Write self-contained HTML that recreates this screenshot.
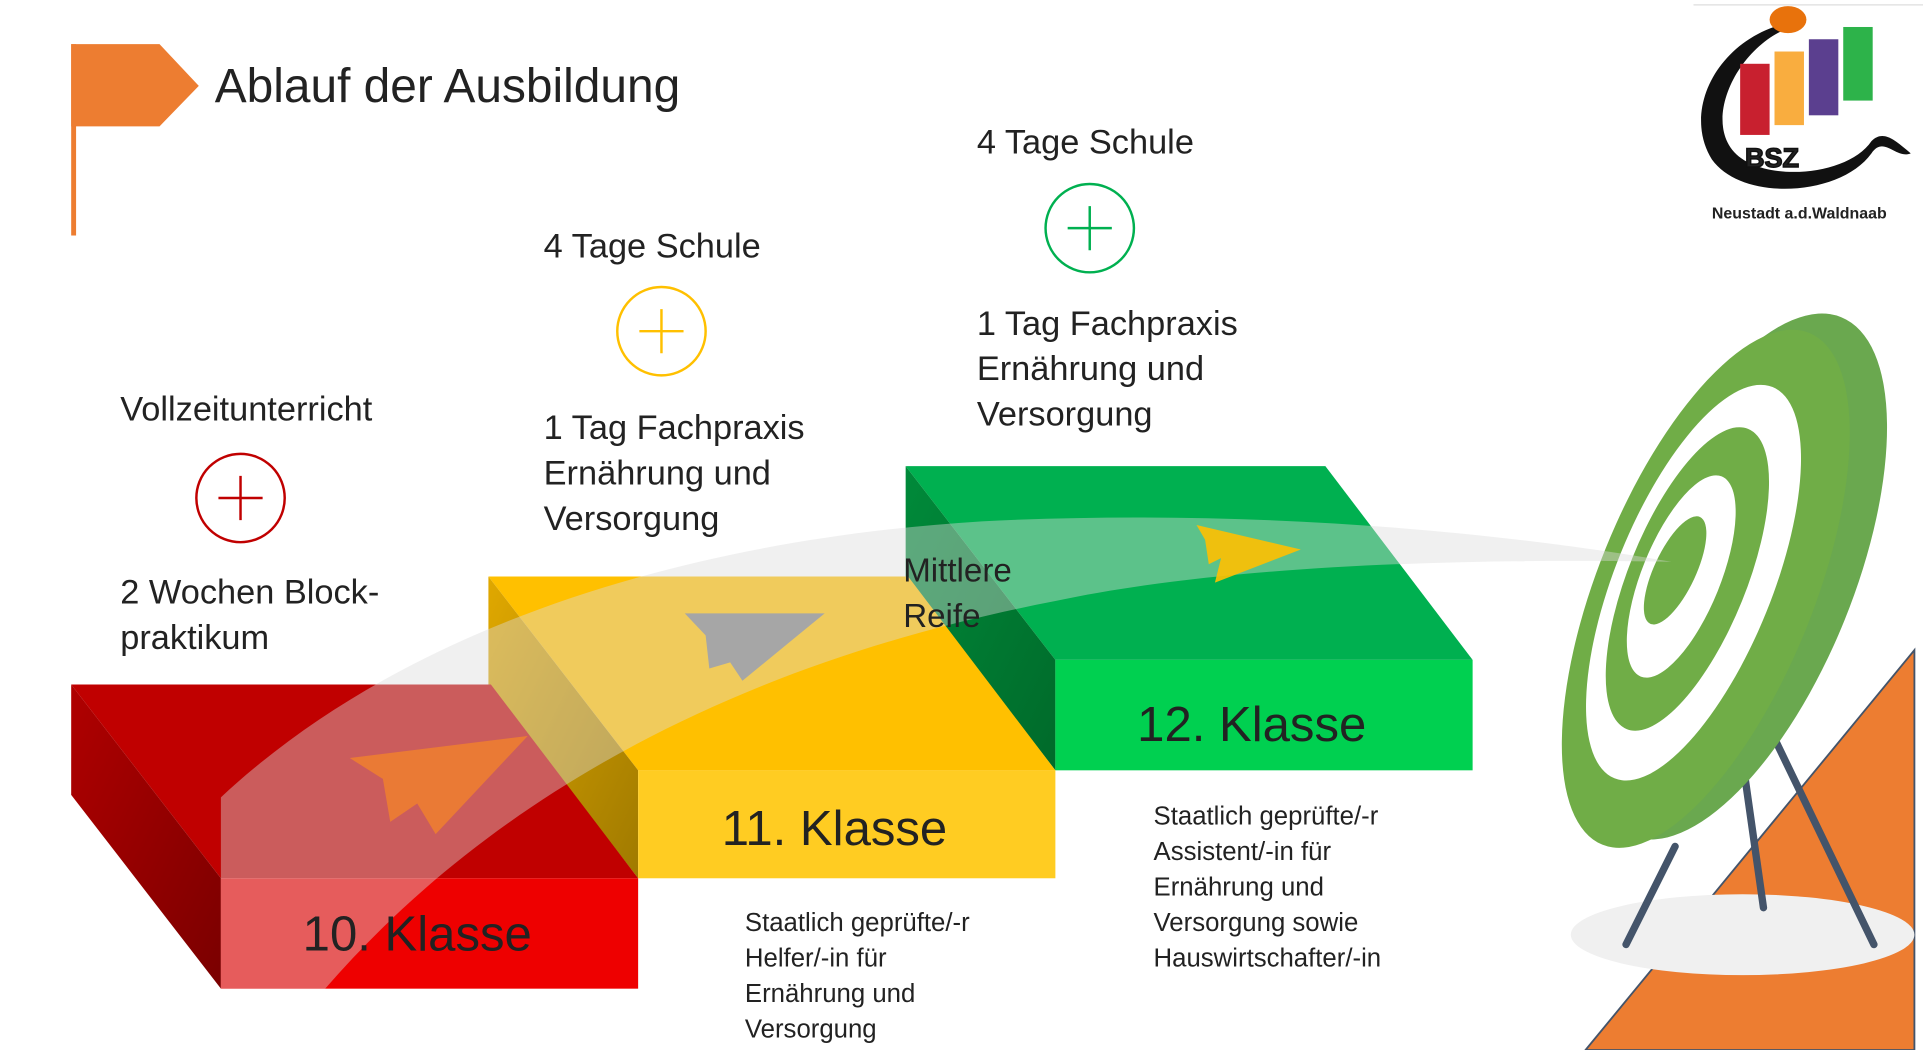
<!DOCTYPE html>
<html><head><meta charset="utf-8"><style>
html,body{margin:0;padding:0;background:#fff;width:1923px;height:1050px;overflow:hidden}
svg{display:block}
text{font-family:"Liberation Sans",sans-serif;fill:#222}
</style></head><body>
<svg width="1923" height="1050" viewBox="0 0 1567 856" preserveAspectRatio="none">
<defs>
<linearGradient id="rs" x1="0" y1="0" x2="1" y2="1"><stop offset="0" stop-color="#b00000"/><stop offset="1" stop-color="#7a0000"/></linearGradient>
<linearGradient id="ys" x1="0" y1="0" x2="1" y2="1"><stop offset="0" stop-color="#e0a800"/><stop offset="1" stop-color="#a07a00"/></linearGradient>
<linearGradient id="gs" x1="0" y1="0" x2="1" y2="1"><stop offset="0" stop-color="#008a3a"/><stop offset="1" stop-color="#006a2a"/></linearGradient>
</defs>
<!-- flag -->
<rect x="58" y="36" width="4" height="156" fill="#ed7d31"/>
<polygon points="58,36 130,36 162,70 130,103 58,103" fill="#ed7d31"/>
<text x="175" y="83" font-size="39" fill="#111">Ablauf der Ausbildung</text>
<!-- logo -->
<line x1="1380" y1="4" x2="1567" y2="4" stroke="#ddd" stroke-width="1"/>
<path d="M1460,18 C1400,30 1370,90 1395,130 C1420,165 1500,160 1525,125 C1535,110 1545,130 1557,125 C1545,115 1535,105 1525,115 C1505,145 1430,150 1410,120 C1390,90 1420,35 1460,22 Z" fill="#111"/>
<rect x="1418" y="52" width="24" height="58" fill="#c8202f"/>
<rect x="1446" y="42" width="24" height="60" fill="#f9ad3f"/>
<rect x="1474" y="32" width="24" height="62" fill="#5b3f8f"/>
<rect x="1502" y="22" width="24" height="60" fill="#2db34a"/>
<ellipse cx="1457" cy="16" rx="15" ry="11" fill="#e8720c"/>
<text x="1422" y="136" font-size="22" font-weight="bold" fill="#fff" stroke="#111" stroke-width="1.2">BSZ</text>
<text x="1395" y="178" font-size="13" font-weight="bold" fill="#222">Neustadt a.d.Waldnaab</text>
<!-- target -->
<polygon points="1292,856 1560,530 1560,856" fill="#ed7d31" stroke="#44546a" stroke-width="1.5"/>
<ellipse cx="1420" cy="762" rx="140" ry="33" fill="#f0f0f0"/>
<line x1="1325" y1="770" x2="1365" y2="690" stroke="#44546a" stroke-width="6" stroke-linecap="round"/>
<line x1="1437" y1="740" x2="1420" y2="620" stroke="#44546a" stroke-width="6" stroke-linecap="round"/>
<line x1="1527" y1="770" x2="1445" y2="600" stroke="#44546a" stroke-width="6" stroke-linecap="round"/>
<ellipse cx="1415" cy="470" rx="95" ry="228" transform="rotate(22 1415 470)" fill="#6aa84f"/>
<ellipse cx="1390" cy="480" rx="88" ry="225" transform="rotate(22 1390 480)" fill="#70ad47"/>
<ellipse cx="1380" cy="475" rx="64" ry="172" transform="rotate(22 1380 475)" fill="#fff"/>
<ellipse cx="1375" cy="472" rx="48" ry="132" transform="rotate(22 1375 472)" fill="#70ad47"/>
<ellipse cx="1370" cy="470" rx="32" ry="88" transform="rotate(22 1370 470)" fill="#fff"/>
<ellipse cx="1365" cy="465" rx="17" ry="48" transform="rotate(25 1365 465)" fill="#70ad47"/>
<!-- green block -->
<polygon points="738,380 1080,380 1200,538 860,538" fill="#00b050"/>
<polygon points="738,380 860,538 860,628 738,470" fill="url(#gs)"/>
<rect x="860" y="538" width="340" height="90" fill="#00d050"/>
<!-- yellow block -->
<polygon points="398,470 740,470 860,628 520,628" fill="#ffc000"/>
<polygon points="398,470 520,628 520,716 398,558" fill="url(#ys)"/>
<rect x="520" y="628" width="340" height="88" fill="#ffcc22"/>
<!-- red block -->
<polygon points="58,558 400,558 520,716 180,716" fill="#c00000"/>
<polygon points="58,558 180,716 180,806 58,648" fill="url(#rs)"/>
<rect x="180" y="716" width="340" height="90" fill="#ee0000"/>
<!-- swoosh -->
<path d="M180,650 C330,510 560,440 800,425 C1000,415 1200,430 1362,458 C1200,455 1000,460 860,490 C600,540 400,650 265,806 L180,806 Z" fill="#dcdcdc" opacity="0.42"/>
<!-- planes -->
<polygon points="285,618 430,600 355,680 340,655 318,670 312,635" fill="#ed7d31" opacity="0.9"/>
<polygon points="558,500 672,500 605,555 595,540 578,545 575,518" fill="#a6a6a6"/>
<polygon points="975,428 1060,448 990,475 995,455 985,460 982,440" fill="#ffc000" opacity="0.9"/>
<!-- texts -->
<g font-size="28">
<text x="98" y="343">Vollzeitunterricht</text>
<text x="98" y="492">2 Wochen Block-</text>
<text x="98" y="529">praktikum</text>
<text x="443" y="210">4 Tage Schule</text>
<text x="443" y="358">1 Tag Fachpraxis</text>
<text x="443" y="395">Ernährung und</text>
<text x="443" y="432">Versorgung</text>
<text x="796" y="125">4 Tage Schule</text>
<text x="796" y="273">1 Tag Fachpraxis</text>
<text x="796" y="310">Ernährung und</text>
<text x="796" y="347">Versorgung</text>
<text x="736" y="474" font-size="27">Mittlere</text>
<text x="736" y="511" font-size="27">Reife</text>
</g>
<circle cx="196" cy="406" r="36" fill="none" stroke="#c00000" stroke-width="2"/>
<path d="M178,406 H214 M196,388 V424" stroke="#c00000" stroke-width="2"/>
<circle cx="539" cy="270" r="36" fill="none" stroke="#ffc000" stroke-width="2"/>
<path d="M521,270 H557 M539,252 V288" stroke="#ffc000" stroke-width="2"/>
<circle cx="888" cy="186" r="36" fill="none" stroke="#00b050" stroke-width="2"/>
<path d="M870,186 H906 M888,168 V204" stroke="#00b050" stroke-width="2"/>
<g font-size="40" text-anchor="middle">
<text x="1020" y="604" fill="#111">12. Klasse</text>
<text x="680" y="689" fill="#111">11. Klasse</text>
<text x="340" y="775" fill="#444">10. Klasse</text>
</g>
<g font-size="21">
<text x="607" y="759">Staatlich geprüfte/-r</text>
<text x="607" y="788">Helfer/-in für</text>
<text x="607" y="817">Ernährung und</text>
<text x="607" y="846">Versorgung</text>
<text x="940" y="672">Staatlich geprüfte/-r</text>
<text x="940" y="701">Assistent/-in für</text>
<text x="940" y="730">Ernährung und</text>
<text x="940" y="759">Versorgung sowie</text>
<text x="940" y="788">Hauswirtschafter/-in</text>
</g>
</svg>
</body></html>
